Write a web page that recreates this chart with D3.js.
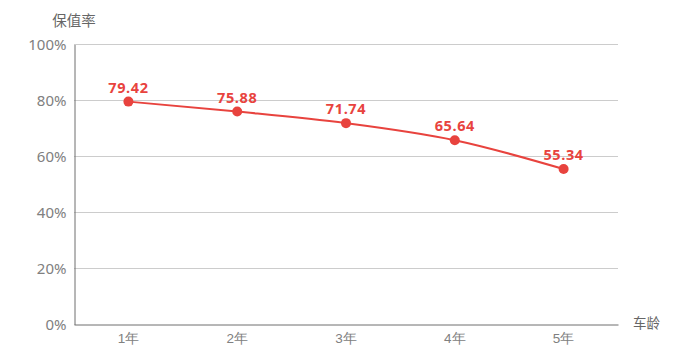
<!DOCTYPE html>
<html><head><meta charset="utf-8">
<script src="https://cdn.jsdelivr.net/npm/d3@7"></script>
<style>body{margin:0;background:#fff;}svg{display:block;font-family:"Noto Sans CJK SC","Noto Sans",sans-serif;}</style>
</head><body><svg id="c" width="698" height="356"></svg>
<script>
const categories = ["1年","2年","3年","4年","5年"];
const values = [79.42, 75.88, 71.74, 65.64, 55.34];
const yTicks = [0,20,40,60,80,100];
const yName = "保值率";
const xName = "车龄";

const svg = d3.select("#c");
const L=74,R=618,T=44,B=324;
const x = d3.scaleBand().domain(categories).range([L,R]);
const y = d3.scaleLinear().domain([0,100]).range([B,T]);
const red="#e8433e";

svg.append("g").selectAll("line").data(yTicks.filter(d=>d>0)).join("line")
  .attr("x1",L).attr("x2",R).attr("y1",d=>y(d)+0.5).attr("y2",d=>y(d)+0.5)
  .attr("stroke","#cccccc").attr("stroke-width",1);

const ya = svg.append("g").attr("transform",`translate(${L+0.5},0.5)`)
  .call(d3.axisLeft(y).tickValues(yTicks).tickFormat(d=>d+"%").tickSize(0).tickPadding(8));
ya.select(".domain").attr("stroke","#6e6e6e");
ya.selectAll("text").attr("fill","#808080").attr("font-size",15).attr("font-family","'Noto Sans','DejaVu Sans',sans-serif");

const xa = svg.append("g").attr("transform",`translate(0,${B+0.5})`)
  .call(d3.axisBottom(x).tickSize(0).tickPadding(9));
xa.select(".domain").attr("stroke","#6e6e6e");
xa.selectAll("text").attr("fill","#808080").attr("font-size",13.5);

svg.append("text").attr("x",L).attr("y",26).attr("text-anchor","middle")
  .attr("fill","#666").attr("font-size",14.5).text(yName);
svg.append("text").attr("x",633).attr("y",B+4).attr("text-anchor","start")
  .attr("fill","#666").attr("font-size",13.5).text(xName);

const pts = categories.map((c,i)=>[x(c)+x.bandwidth()/2, y(values[i])]);
svg.append("path").attr("d",d3.line().curve(d3.curveMonotoneX)(pts))
  .attr("fill","none").attr("stroke",red).attr("stroke-width",2);
svg.append("g").selectAll("circle").data(pts).join("circle")
  .attr("cx",d=>d[0]).attr("cy",d=>d[1]).attr("r",5).attr("fill",red);
svg.append("g").selectAll("text").data(pts).join("text")
  .attr("x",d=>d[0]).attr("y",d=>d[1]-9).attr("text-anchor","middle")
  .attr("fill",red).attr("font-size",14.5).attr("font-weight","bold")
  .attr("font-family","'Open Sans','Noto Sans',sans-serif").attr("letter-spacing","0.6")
  .text((d,i)=>values[i].toFixed(2));
</script></body></html>
